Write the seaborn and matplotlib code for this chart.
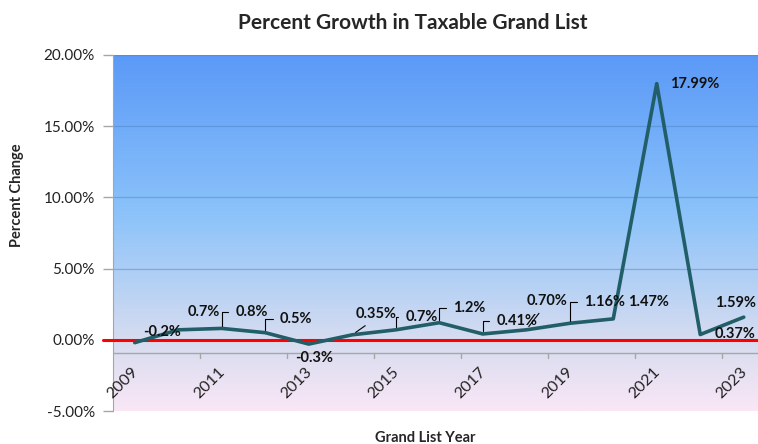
import numpy as np
import matplotlib
matplotlib.use('Agg')
import matplotlib.pyplot as plt
from matplotlib.colors import LinearSegmentedColormap
import seaborn as sns

sns.set_style('white')
plt.rcParams['font.family'] = ['Lato', 'DejaVu Sans']

# data
years = [2009, 2010, 2011, 2012, 2013, 2014, 2015, 2016,
         2017, 2018, 2019, 2020, 2021, 2022, 2023]
growth = [-0.2, 0.7, 0.8, 0.5, -0.3, 0.35, 0.7, 1.2,
          0.41, 0.70, 1.16, 1.47, 17.99, 0.37, 1.59]
point_labels = ['-0.2%', '0.7%', '0.8%', '0.5%', '-0.3%', '0.35%', '0.7%', '1.2%',
                '0.41%', '0.70%', '1.16%', '1.47%', '17.99%', '0.37%', '1.59%']
y_ticks = [-5, 0, 5, 10, 15, 20]

# label offsets in pixels and leader style
offsets = [(27, 11), (26, 18), (30, 16), (31, 14), (5, -14), (24, 21), (26, 13), (30, 15),
           (34, 13), (21, 29), (35, 21), (35, 17), (38, 0), (35, 1), (-8, 14)]
leaders = [None, None, 'angle', 'angle', None, 'line', 'angle', 'angle',
           'angle', 'line', 'angle', None, None, None, None]

fig = plt.figure(figsize=(7.58, 4.44), dpi=100)
ax = fig.add_axes([113 / 758, 33 / 444, 652.5 / 758, 356 / 444])

xpos = np.arange(len(years))
ax.set_xlim(-0.5, len(years) - 0.5)
ax.set_ylim(-5, 20)

# gradient plot area
cmap = LinearSegmentedColormap.from_list(
    'bg', [(0.0, '#f9e7f6'), (0.2, '#d6dcf0'), (0.55, '#8cc3fa'), (1.0, '#5a99f7')])
grad = np.linspace(0, 1, 256).reshape(-1, 1)
ax.imshow(grad, extent=[-0.5, len(years) - 0.5, -5, 20], origin='lower',
          aspect='auto', cmap=cmap, zorder=0)

for t in y_ticks[2:]:
    ax.axhline(t, color='#4a7fc0', lw=0.9, alpha=0.45, zorder=1)

# category axis crossing a bit below zero
ax.axhline(-0.91, color='#a6a6a6', lw=1, zorder=2)
for b in np.arange(1.5, len(years), 2):
    ax.plot([b, b], [-0.91, -1.25], color='#a6a6a6', lw=1, zorder=2)

sns.lineplot(x=xpos, y=growth, ax=ax, color='#215e68', lw=2.6, zorder=4)

ax.plot([-0.74, len(years) - 0.5], [0, 0], color='#ff0000', lw=2.2,
        zorder=3, clip_on=False)

for i, (lab, (dx, dy), ld) in enumerate(zip(point_labels, offsets, leaders)):
    kw = {}
    if ld == 'angle':
        kw['arrowprops'] = dict(arrowstyle='-', color='black', lw=0.8,
                                connectionstyle='angle,angleA=0,angleB=90,rad=0',
                                relpos=(0, 0.5), shrinkA=3, shrinkB=2)
    elif ld == 'line':
        kw['arrowprops'] = dict(arrowstyle='-', color='black', lw=0.8,
                                relpos=(0.4, 0), shrinkA=2, shrinkB=3)
    ax.annotate(lab, (xpos[i], growth[i]), xytext=(dx, dy),
                textcoords='offset pixels', ha='center', va='center',
                fontsize=10.5, fontweight='bold', color='#111111', zorder=6, **kw)

# year labels every other category
for i in range(0, len(years), 2):
    ax.text(xpos[i] - 0.28, -3.05, str(years[i]), rotation=45, ha='center',
            va='center', rotation_mode='anchor', fontsize=11.5, color='#222222')

ax.set_xticks([])
ax.set_yticks(y_ticks)
ax.set_yticklabels([f'{t:.2f}%' for t in y_ticks], fontsize=11, color='#222222')
ax.tick_params(axis='y', length=7, width=1, color='#a6a6a6', pad=6, left=True)

for s in ['top', 'right', 'bottom']:
    ax.spines[s].set_visible(False)
ax.spines['left'].set_color('#a6a6a6')

fig.text(413 / 758, 1 - 23 / 444, 'Percent Growth in Taxable Grand List', ha='center',
         va='center', fontsize=15, fontweight='bold')
fig.text(425 / 758, 1 - 438 / 444, 'Grand List Year', ha='center', va='center',
         fontsize=10.5, fontweight='bold')
fig.text(17 / 758, 1 - 195 / 444, 'Percent Change', ha='center', va='center',
         rotation=90, fontsize=10.5, fontweight='bold')

fig.savefig('out.png', dpi=100)
